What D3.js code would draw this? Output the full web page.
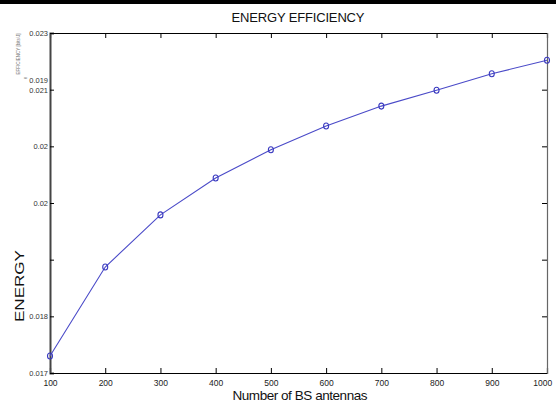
<!DOCTYPE html>
<html>
<head>
<meta charset="utf-8">
<script src="https://cdn.jsdelivr.net/npm/d3@7"></script>
<style>
  body { margin: 0; background: #fff; }
  svg { display: block; font-family: "Liberation Sans", Arial, sans-serif; }
</style>
</head>
<body>
<div id="chart"></div>
<script>
// Donnees
var antennas = [100, 200, 300, 400, 500, 600, 700, 800, 900, 1000];
var efficiency = [0.0173, 0.01887, 0.01979, 0.02044, 0.02094, 0.02136, 0.02171, 0.02199, 0.02228, 0.02252];
var xTicks = [100, 200, 300, 400, 500, 600, 700, 800, 900, 1000];
var yTicks = [0.017, 0.018, 0.019, 0.020, 0.021, 0.022, 0.023];
var yTickLabels = ["0.017", "0.018", "", "0.02", "0.02", "0.021", "0.023"];

var W = 556, H = 407;
var margin = { left: 50, right: 9, top: 33, bottom: 34 };

var svg = d3.select("#chart").append("svg").attr("width", W).attr("height", H);

// bande noire en haut (scan)
svg.append("rect").attr("x", 0).attr("y", 0).attr("width", W).attr("height", 4).attr("fill", "#000");

var x = d3.scaleLinear().domain([100, 1000]).range([margin.left, W - margin.right]);
var y = d3.scaleLinear().domain([0.017, 0.023]).range([H - margin.bottom, margin.top]);

// Axes
var bas = svg.append("g").attr("transform", "translate(0," + (H - margin.bottom) + ")")
  .call(d3.axisBottom(x).tickValues(xTicks).tickSize(-5).tickPadding(7).tickFormat(d3.format("d")));
var haut = svg.append("g").attr("transform", "translate(0," + margin.top + ")")
  .call(d3.axisTop(x).tickValues(xTicks).tickSize(-5).tickFormat(""));
var gauche = svg.append("g").attr("transform", "translate(" + margin.left + ",0)")
  .call(d3.axisLeft(y).tickValues(yTicks).tickSize(-4).tickPadding(2)
    .tickFormat(function (d, i) { return yTickLabels[i]; }));
var droite = svg.append("g").attr("transform", "translate(" + (W - margin.right) + ",0)")
  .call(d3.axisRight(y).tickValues(yTicks).tickSize(-5).tickFormat(""));

[bas, haut, gauche, droite].forEach(function (g) {
  g.select(".domain").attr("stroke", "#000").attr("stroke-width", 1.2);
  g.selectAll(".tick line").attr("stroke", "#000");
});
gauche.select(".domain").attr("stroke", "#444").attr("stroke-width", 2);
droite.select(".domain").attr("stroke", "#666");
bas.selectAll(".tick text").attr("font-size", 8.5).attr("fill", "#222");
// dernier libelle decale pour rester dans le cadre
bas.selectAll(".tick text").filter(function (d) { return d === 1000; })
  .attr("text-anchor", "end").attr("dx", "0.55em");
gauche.selectAll(".tick text").attr("font-size", 7.5).attr("fill", "#333");

// etiquette parasite du scan
svg.append("text").attr("x", margin.left - 2).attr("y", y(0.02216)).attr("dy", "0.32em")
  .attr("text-anchor", "end").attr("font-size", 7.5).attr("fill", "#333").text("0.019");

// Courbe
var ligne = d3.line().x(function (d, i) { return x(antennas[i]); }).y(function (d) { return y(d); });
svg.append("path").datum(efficiency).attr("d", ligne)
  .attr("fill", "none").attr("stroke", "#4a4ac8").attr("stroke-width", 1.1);
svg.selectAll("ellipse.pt").data(efficiency).enter().append("ellipse")
  .attr("class", "pt")
  .attr("cx", function (d, i) { return x(antennas[i]); })
  .attr("cy", function (d) { return y(d); })
  .attr("rx", 2.5).attr("ry", 3)
  .attr("fill", "none").attr("stroke", "#3a3ac0").attr("stroke-width", 1.1);

// Textes
svg.append("text").attr("x", 298).attr("y", 22).attr("text-anchor", "middle")
  .attr("font-size", 13).attr("textLength", 133).attr("fill", "#111").text("ENERGY EFFICIENCY");
svg.append("text").attr("x", 300).attr("y", 400).attr("text-anchor", "middle")
  .attr("font-size", 13.5).attr("textLength", 135).attr("fill", "#111").text("Number of BS antennas");
svg.append("text").attr("transform", "translate(24,286) rotate(-90)").attr("text-anchor", "middle")
  .attr("font-size", 13).attr("textLength", 72).attr("lengthAdjust", "spacingAndGlyphs")
  .attr("fill", "#111").text("ENERGY");
svg.append("text").attr("transform", "translate(20,54) rotate(-90)").attr("text-anchor", "middle")
  .attr("font-size", 4.5).attr("fill", "#777").text("EFFICIENCY [bits/J]");
svg.append("text").attr("transform", "translate(27,78) rotate(-90)").attr("text-anchor", "middle")
  .attr("font-size", 4.5).attr("fill", "#777").text("e");
</script>
</body>
</html>
